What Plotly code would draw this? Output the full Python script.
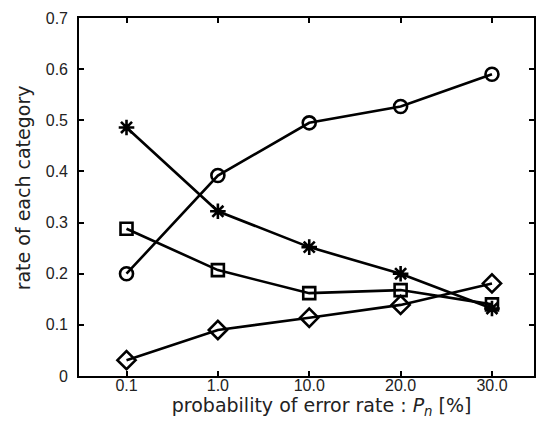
import plotly.graph_objects as go

categories = ["0.1", "1.0", "10.0", "20.0", "30.0"]
circle_vals = [0.20, 0.392, 0.495, 0.527, 0.590]
star_vals = [0.486, 0.322, 0.252, 0.200, 0.132]
square_vals = [0.288, 0.207, 0.162, 0.168, 0.140]
diamond_vals = [0.031, 0.090, 0.114, 0.139, 0.181]
y_ticks = [0, 0.1, 0.2, 0.3, 0.4, 0.5, 0.6, 0.7]
y_ticktext = ["0", "0.1", "0.2", "0.3", "0.4", "0.5", "0.6", "0.7"]

xi = list(range(len(categories)))

series = [
    (circle_vals, "circle-open", 13),
    (star_vals, "asterisk-open", 13),
    (square_vals, "square-open", 12),
    (diamond_vals, "diamond-open", 14),
]

fig = go.Figure()
for vals, sym, sz in series:
    fig.add_trace(go.Scatter(
        x=xi, y=vals, mode="lines+markers",
        line=dict(color="black", width=2.6),
        marker=dict(symbol=sym, size=sz, color="black",
                    line=dict(color="black", width=2.6)),
        showlegend=False,
    ))

tick_font = dict(family="Liberation Sans, Arial, sans-serif", size=16, color="#222")
title_font = dict(family="DejaVu Sans, sans-serif", size=19, color="#222")

fig.update_layout(
    width=538, height=423,
    margin=dict(l=79, r=2, t=18, b=47),
    paper_bgcolor="white", plot_bgcolor="white",
    font=tick_font,
)
fig.update_xaxes(
    range=[-0.52, 4.46],
    tickmode="array", tickvals=xi, ticktext=categories, tickfont=tick_font,
    ticks="inside", ticklen=5, tickwidth=1.5, tickcolor="black",
    ticklabelstandoff=-6,
    showline=True, linecolor="black", linewidth=1.6, mirror="allticks",
    showgrid=False, zeroline=False,
    title=dict(text="&nbsp;&nbsp;&nbsp;&nbsp;&nbsp;probability of error rate : <i>P</i><sub><i>n</i></sub> [%]",
               standoff=6, font=title_font),
)
fig.update_yaxes(
    range=[0, 0.7],
    tickmode="array", tickvals=y_ticks, ticktext=y_ticktext, tickfont=tick_font,
    ticks="inside", ticklen=5, tickwidth=1.5, tickcolor="black",
    ticklabelstandoff=6,
    showline=True, linecolor="black", linewidth=1.6, mirror="allticks",
    showgrid=False, zeroline=False,
    title=dict(text="&nbsp;&nbsp;&nbsp;rate of each category", standoff=10, font=title_font),
)
fig.write_html("out.html")
